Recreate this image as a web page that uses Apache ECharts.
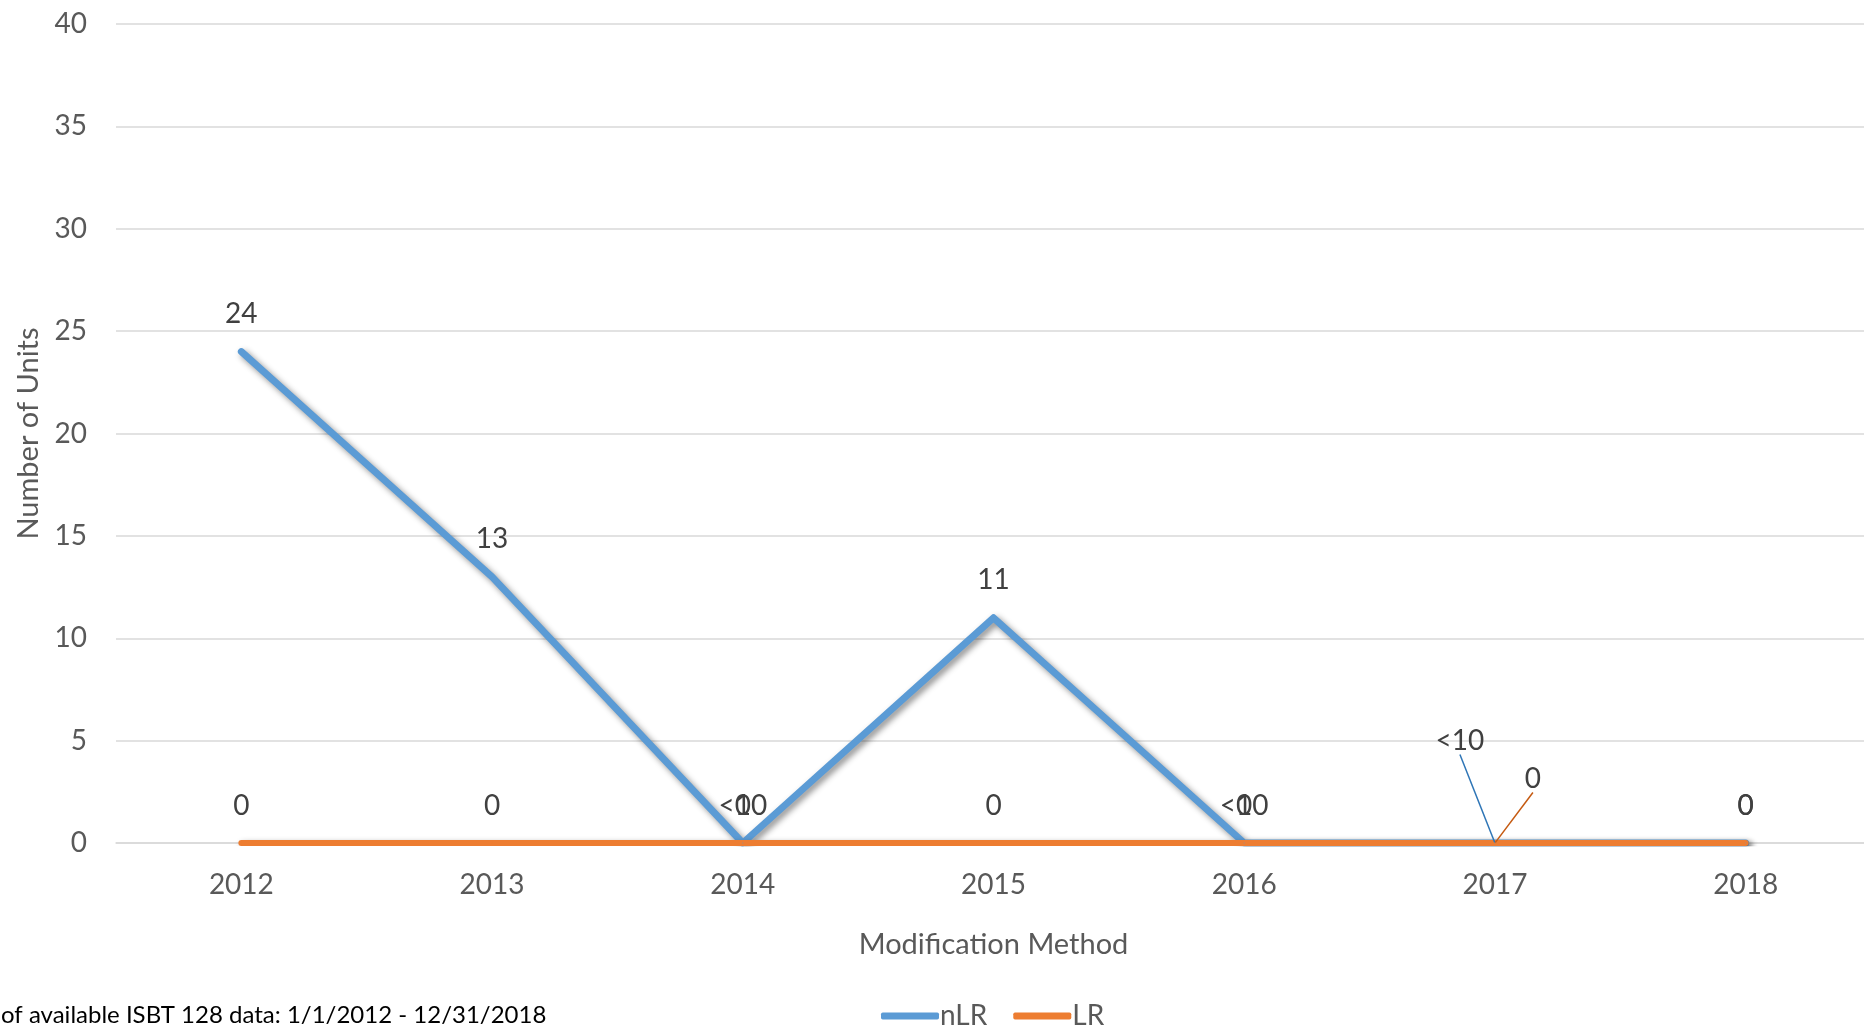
<!DOCTYPE html>
<html>
<head>
<meta charset="utf-8">
<script src="https://cdn.jsdelivr.net/npm/echarts@6/dist/echarts.min.js"></script>
<style>
  html, body { margin: 0; padding: 0; background: #fff; }
  #chart { width: 1864px; height: 1026px; }
</style>
</head>
<body>
<div id="chart"></div>
<script>
const years = ['2012', '2013', '2014', '2015', '2016', '2017', '2018']
const nlrValues = [24, 13, 0, 11, 0, 0, 0]
const nlrLabels = ['24', '13', '<10', '11', '<10', '<10', '0']
const lrValues = [0, 0, 0, 0, 0, 0, 0]
const lrLabels = ['0', '0', '0', '0', '0', '0', '0']
const yTicks = [0, 5, 10, 15, 20, 25, 30, 35, 40]

const font = 'Lato, "Open Sans", sans-serif'
const lineShadow = {
  shadowColor: 'rgba(0,0,0,0.45)',
  shadowBlur: 6,
  shadowOffsetX: 3,
  shadowOffsetY: 3,
}

// the 2017 labels are pulled off the point with a leader line
const movedIndex = 5

function makeData(values, leaderColor) {
  return values.map((v, i) => {
    if (i !== movedIndex) return v
    return {
      value: v,
      labelLine: { show: true, lineStyle: { color: leaderColor, width: 1.5 } },
    }
  })
}

const chart = echarts.init(document.getElementById('chart'))

chart.setOption({
  animation: false,
  textStyle: { fontFamily: font },
  grid: { left: 116, width: 1755, top: 24, bottom: 183, outerBoundsMode: 'none' },
  legend: {
    top: 997,
    left: 876,
    icon: 'roundRect',
    itemWidth: 58,
    itemHeight: 7,
    itemGap: 26,
    textStyle: { fontSize: 28, color: '#595959', fontFamily: font, padding: [0, 0, 0, -4] },
    data: ['nLR', 'LR'],
  },
  xAxis: {
    type: 'category',
    data: years,
    boundaryGap: true,
    name: 'Modification Method',
    nameLocation: 'middle',
    nameGap: 87,
    nameTextStyle: { fontSize: 29, color: '#595959' },
    axisLine: { lineStyle: { color: '#D9D9D9', width: 1.5 } },
    axisTick: { show: false },
    axisLabel: { fontSize: 28, color: '#595959', margin: 28 },
  },
  yAxis: {
    type: 'value',
    min: yTicks[0],
    max: yTicks[yTicks.length - 1],
    interval: yTicks[1] - yTicks[0],
    name: 'Number of Units',
    nameLocation: 'middle',
    nameGap: 73,
    nameTextStyle: { fontSize: 29, color: '#595959' },
    axisLine: { show: false },
    axisTick: { show: false },
    axisLabel: { fontSize: 28, color: '#595959', margin: 29 },
    splitLine: { lineStyle: { color: '#D9D9D9', width: 1.5 } },
  },
  series: [
    {
      name: 'nLR',
      type: 'line',
      data: makeData(nlrValues, '#2E75B6'),
      symbol: 'circle',
      symbolSize: 1,
      color: '#5B9BD5',
      lineStyle: { width: 7, cap: 'round', join: 'round', ...lineShadow },
      label: {
        show: true,
        position: 'top',
        distance: 23,
        fontSize: 28,
        color: '#404040',
        formatter: (p) => nlrLabels[p.dataIndex],
      },
      labelLine: { show: false },
      labelLayout: (p) => (p.dataIndex === movedIndex ? { dx: -35, dy: -65 } : {}),
    },
    {
      name: 'LR',
      type: 'line',
      data: makeData(lrValues, '#C55A11'),
      symbol: 'circle',
      symbolSize: 1,
      color: '#ED7D31',
      lineStyle: { width: 6, cap: 'round', join: 'round', ...lineShadow },
      label: {
        show: true,
        position: 'top',
        distance: 23,
        fontSize: 28,
        color: '#404040',
        formatter: (p) => lrLabels[p.dataIndex],
      },
      labelLine: { show: false },
      labelLayout: (p) => (p.dataIndex === movedIndex ? { dx: 38, dy: -27 } : {}),
    },
  ],
  graphic: [
    {
      type: 'text',
      left: 1,
      top: 1003,
      style: {
        text: 'of available ISBT 128 data: 1/1/2012 - 12/31/2018',
        fontSize: 24,
        fontFamily: font,
        fill: '#000000',
      },
    },
  ],
})
</script>
</body>
</html>
